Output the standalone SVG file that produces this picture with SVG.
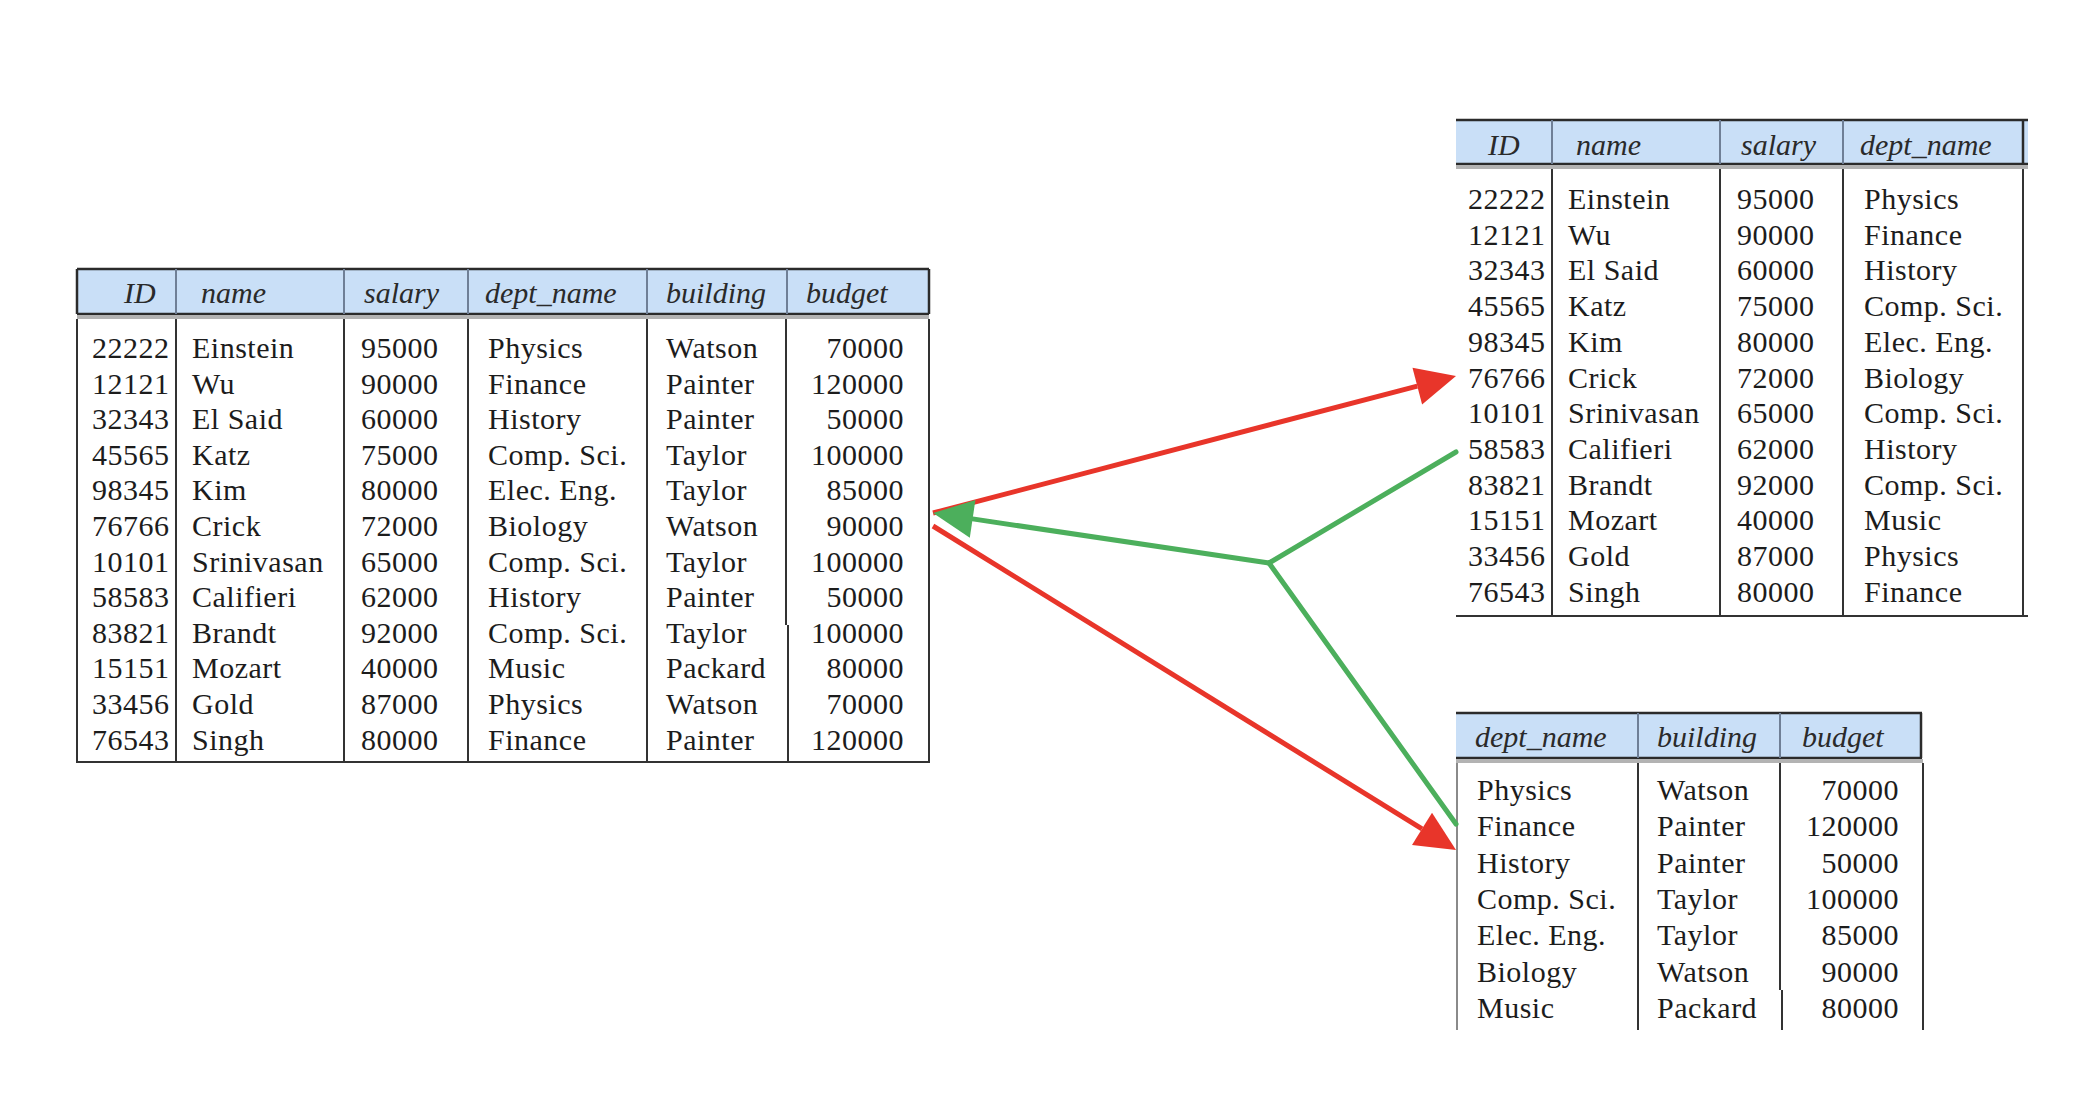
<svg xmlns="http://www.w3.org/2000/svg" width="2086" height="1100" viewBox="0 0 2086 1100">
<style>
  .hdr { fill: #c9dff7; }
  .hline { stroke: #2b2b2b; stroke-width: 2.5; fill: none; }
  .hdiv { stroke: #6f7f96; stroke-width: 2; }
  .sep { stroke: #b3b3b3; stroke-width: 4; }
  .bdiv { stroke: #333; stroke-width: 2; }
  .bl { stroke: #8a8a8a; stroke-width: 2; }
  .h { font-family: "Liberation Serif", serif; font-style: italic; font-size: 30px; fill: #2a2a2a; }
  .b { font-family: "Liberation Serif", serif; font-size: 30px; fill: #1c1c1c; letter-spacing: 0.5px; }
  .r { text-anchor: end; }
  .red { stroke: #e8352a; stroke-width: 5; fill: none; }
  .green { stroke: #4caf5c; stroke-width: 5; fill: none; stroke-linecap: round; }
</style>
<defs>
  <marker id="ahRed" markerUnits="userSpaceOnUse" markerWidth="40" markerHeight="38" refX="0" refY="19" orient="auto" overflow="visible">
    <path d="M0,0 L40,19 L0,38 z" fill="#e8352a"/>
  </marker>
  <marker id="ahGreen" markerUnits="userSpaceOnUse" markerWidth="40" markerHeight="38" refX="0" refY="19" orient="auto" overflow="visible">
    <path d="M0,0 L40,19 L0,38 z" fill="#4caf5c"/>
  </marker>
</defs>
<rect width="2086" height="1100" fill="#ffffff"/>

<g id="instructor_department">
  <rect class="hdr" x="77" y="269" width="852" height="45"/>
  <line class="hline" x1="77" y1="269" x2="929" y2="269"/>
  <line class="hline" x1="77" y1="314" x2="929" y2="314"/>
  <line class="hline" x1="77" y1="269" x2="77" y2="314"/>
  <line class="hline" x1="929" y1="269" x2="929" y2="314"/>
  <g class="hdiv">
    <line x1="176" y1="269" x2="176" y2="314"/>
    <line x1="344" y1="269" x2="344" y2="314"/>
    <line x1="468" y1="269" x2="468" y2="314"/>
    <line x1="647" y1="269" x2="647" y2="314"/>
    <line x1="787" y1="269" x2="787" y2="314"/>
  </g>
  <line class="sep" x1="77" y1="317" x2="929" y2="317"/>
  <g class="bdiv">
    <line x1="77" y1="319" x2="77" y2="762"/>
    <line x1="176" y1="319" x2="176" y2="762"/>
    <line x1="344" y1="319" x2="344" y2="762"/>
    <line x1="468" y1="319" x2="468" y2="762"/>
    <line x1="647" y1="319" x2="647" y2="762"/>
    <line x1="786" y1="319" x2="786" y2="625"/>
    <line x1="788" y1="625" x2="788" y2="762"/>
    <line x1="929" y1="319" x2="929" y2="762"/>
    <line x1="76" y1="762" x2="930" y2="762"/>
  </g>
  <text class="h" x="124" y="303">ID</text>
  <text class="h" x="201" y="303">name</text>
  <text class="h" x="364" y="303">salary</text>
  <text class="h" x="485" y="303">dept_name</text>
  <text class="h" x="666" y="303">building</text>
  <text class="h" x="806" y="303">budget</text>
  <text class="b"><tspan x="92" y="358">22222</tspan><tspan x="92" y="393.6">12121</tspan><tspan x="92" y="429.2">32343</tspan><tspan x="92" y="464.8">45565</tspan><tspan x="92" y="500.4">98345</tspan><tspan x="92" y="536">76766</tspan><tspan x="92" y="571.6">10101</tspan><tspan x="92" y="607.2">58583</tspan><tspan x="92" y="642.8">83821</tspan><tspan x="92" y="678.4">15151</tspan><tspan x="92" y="714">33456</tspan><tspan x="92" y="749.6">76543</tspan></text>
  <text class="b"><tspan x="192" y="358">Einstein</tspan><tspan x="192" y="393.6">Wu</tspan><tspan x="192" y="429.2">El Said</tspan><tspan x="192" y="464.8">Katz</tspan><tspan x="192" y="500.4">Kim</tspan><tspan x="192" y="536">Crick</tspan><tspan x="192" y="571.6">Srinivasan</tspan><tspan x="192" y="607.2">Califieri</tspan><tspan x="192" y="642.8">Brandt</tspan><tspan x="192" y="678.4">Mozart</tspan><tspan x="192" y="714">Gold</tspan><tspan x="192" y="749.6">Singh</tspan></text>
  <text class="b"><tspan x="361" y="358">95000</tspan><tspan x="361" y="393.6">90000</tspan><tspan x="361" y="429.2">60000</tspan><tspan x="361" y="464.8">75000</tspan><tspan x="361" y="500.4">80000</tspan><tspan x="361" y="536">72000</tspan><tspan x="361" y="571.6">65000</tspan><tspan x="361" y="607.2">62000</tspan><tspan x="361" y="642.8">92000</tspan><tspan x="361" y="678.4">40000</tspan><tspan x="361" y="714">87000</tspan><tspan x="361" y="749.6">80000</tspan></text>
  <text class="b"><tspan x="488" y="358">Physics</tspan><tspan x="488" y="393.6">Finance</tspan><tspan x="488" y="429.2">History</tspan><tspan x="488" y="464.8">Comp. Sci.</tspan><tspan x="488" y="500.4">Elec. Eng.</tspan><tspan x="488" y="536">Biology</tspan><tspan x="488" y="571.6">Comp. Sci.</tspan><tspan x="488" y="607.2">History</tspan><tspan x="488" y="642.8">Comp. Sci.</tspan><tspan x="488" y="678.4">Music</tspan><tspan x="488" y="714">Physics</tspan><tspan x="488" y="749.6">Finance</tspan></text>
  <text class="b"><tspan x="666" y="358">Watson</tspan><tspan x="666" y="393.6">Painter</tspan><tspan x="666" y="429.2">Painter</tspan><tspan x="666" y="464.8">Taylor</tspan><tspan x="666" y="500.4">Taylor</tspan><tspan x="666" y="536">Watson</tspan><tspan x="666" y="571.6">Taylor</tspan><tspan x="666" y="607.2">Painter</tspan><tspan x="666" y="642.8">Taylor</tspan><tspan x="666" y="678.4">Packard</tspan><tspan x="666" y="714">Watson</tspan><tspan x="666" y="749.6">Painter</tspan></text>
  <text class="b r"><tspan x="904" y="358">70000</tspan><tspan x="904" y="393.6">120000</tspan><tspan x="904" y="429.2">50000</tspan><tspan x="904" y="464.8">100000</tspan><tspan x="904" y="500.4">85000</tspan><tspan x="904" y="536">90000</tspan><tspan x="904" y="571.6">100000</tspan><tspan x="904" y="607.2">50000</tspan><tspan x="904" y="642.8">100000</tspan><tspan x="904" y="678.4">80000</tspan><tspan x="904" y="714">70000</tspan><tspan x="904" y="749.6">120000</tspan></text>
</g>

<g id="instructor">
  <rect class="hdr" x="1456" y="120" width="572" height="44"/>
  <line class="hline" x1="1456" y1="120" x2="2028" y2="120"/>
  <line class="hline" x1="1456" y1="164" x2="2028" y2="164"/>
  <line class="hline" x1="2023" y1="120" x2="2023" y2="164"/>
  <g class="hdiv">
    <line x1="1552" y1="120" x2="1552" y2="164"/>
    <line x1="1720" y1="120" x2="1720" y2="164"/>
    <line x1="1843" y1="120" x2="1843" y2="164"/>
  </g>
  <line class="sep" x1="1456" y1="167" x2="2028" y2="167"/>
  <g class="bdiv">
    <line x1="1552" y1="169" x2="1552" y2="616"/>
    <line x1="1720" y1="169" x2="1720" y2="616"/>
    <line x1="1843" y1="169" x2="1843" y2="616"/>
    <line x1="2023" y1="169" x2="2023" y2="616"/>
    <line x1="1456" y1="616" x2="2028" y2="616"/>
  </g>
  <text class="h" x="1488" y="155">ID</text>
  <text class="h" x="1576" y="155">name</text>
  <text class="h" x="1741" y="155">salary</text>
  <text class="h" x="1860" y="155">dept_name</text>
  <text class="b"><tspan x="1468" y="209">22222</tspan><tspan x="1468" y="244.7">12121</tspan><tspan x="1468" y="280.4">32343</tspan><tspan x="1468" y="316.1">45565</tspan><tspan x="1468" y="351.8">98345</tspan><tspan x="1468" y="387.5">76766</tspan><tspan x="1468" y="423.2">10101</tspan><tspan x="1468" y="458.9">58583</tspan><tspan x="1468" y="494.6">83821</tspan><tspan x="1468" y="530.3">15151</tspan><tspan x="1468" y="566">33456</tspan><tspan x="1468" y="601.7">76543</tspan></text>
  <text class="b"><tspan x="1568" y="209">Einstein</tspan><tspan x="1568" y="244.7">Wu</tspan><tspan x="1568" y="280.4">El Said</tspan><tspan x="1568" y="316.1">Katz</tspan><tspan x="1568" y="351.8">Kim</tspan><tspan x="1568" y="387.5">Crick</tspan><tspan x="1568" y="423.2">Srinivasan</tspan><tspan x="1568" y="458.9">Califieri</tspan><tspan x="1568" y="494.6">Brandt</tspan><tspan x="1568" y="530.3">Mozart</tspan><tspan x="1568" y="566">Gold</tspan><tspan x="1568" y="601.7">Singh</tspan></text>
  <text class="b"><tspan x="1737" y="209">95000</tspan><tspan x="1737" y="244.7">90000</tspan><tspan x="1737" y="280.4">60000</tspan><tspan x="1737" y="316.1">75000</tspan><tspan x="1737" y="351.8">80000</tspan><tspan x="1737" y="387.5">72000</tspan><tspan x="1737" y="423.2">65000</tspan><tspan x="1737" y="458.9">62000</tspan><tspan x="1737" y="494.6">92000</tspan><tspan x="1737" y="530.3">40000</tspan><tspan x="1737" y="566">87000</tspan><tspan x="1737" y="601.7">80000</tspan></text>
  <text class="b"><tspan x="1864" y="209">Physics</tspan><tspan x="1864" y="244.7">Finance</tspan><tspan x="1864" y="280.4">History</tspan><tspan x="1864" y="316.1">Comp. Sci.</tspan><tspan x="1864" y="351.8">Elec. Eng.</tspan><tspan x="1864" y="387.5">Biology</tspan><tspan x="1864" y="423.2">Comp. Sci.</tspan><tspan x="1864" y="458.9">History</tspan><tspan x="1864" y="494.6">Comp. Sci.</tspan><tspan x="1864" y="530.3">Music</tspan><tspan x="1864" y="566">Physics</tspan><tspan x="1864" y="601.7">Finance</tspan></text>
</g>

<g id="department">
  <rect class="hdr" x="1456" y="713" width="466" height="45"/>
  <line class="hline" x1="1456" y1="713" x2="1922" y2="713"/>
  <line class="hline" x1="1456" y1="758" x2="1922" y2="758"/>
  <line class="hline" x1="1921" y1="713" x2="1921" y2="758"/>
  <g class="hdiv">
    <line x1="1638" y1="713" x2="1638" y2="758"/>
    <line x1="1780" y1="713" x2="1780" y2="758"/>
  </g>
  <line class="sep" x1="1456" y1="761" x2="1923" y2="761"/>
  <line class="bl" x1="1457" y1="763" x2="1457" y2="1030"/>
  <g class="bdiv">
    <line x1="1638" y1="763" x2="1638" y2="1030"/>
    <line x1="1780" y1="763" x2="1780" y2="990"/>
    <line x1="1782" y1="990" x2="1782" y2="1030"/>
    <line x1="1923" y1="763" x2="1923" y2="1030"/>
  </g>
  <text class="h" x="1475" y="747">dept_name</text>
  <text class="h" x="1657" y="747">building</text>
  <text class="h" x="1802" y="747">budget</text>
  <text class="b"><tspan x="1477" y="800">Physics</tspan><tspan x="1477" y="836.3">Finance</tspan><tspan x="1477" y="872.6">History</tspan><tspan x="1477" y="908.9">Comp. Sci.</tspan><tspan x="1477" y="945.2">Elec. Eng.</tspan><tspan x="1477" y="981.5">Biology</tspan><tspan x="1477" y="1017.8">Music</tspan></text>
  <text class="b"><tspan x="1657" y="800">Watson</tspan><tspan x="1657" y="836.3">Painter</tspan><tspan x="1657" y="872.6">Painter</tspan><tspan x="1657" y="908.9">Taylor</tspan><tspan x="1657" y="945.2">Taylor</tspan><tspan x="1657" y="981.5">Watson</tspan><tspan x="1657" y="1017.8">Packard</tspan></text>
  <text class="b r"><tspan x="1899" y="800">70000</tspan><tspan x="1899" y="836.3">120000</tspan><tspan x="1899" y="872.6">50000</tspan><tspan x="1899" y="908.9">100000</tspan><tspan x="1899" y="945.2">85000</tspan><tspan x="1899" y="981.5">90000</tspan><tspan x="1899" y="1017.8">80000</tspan></text>
</g>

<g id="connectors">
  <line class="red" x1="933" y1="513" x2="1417.3" y2="386.1" marker-end="url(#ahRed)"/>
  <line class="red" x1="933" y1="526" x2="1422" y2="828.9" marker-end="url(#ahRed)"/>
  <line class="green" x1="1269" y1="563" x2="1456" y2="452"/>
  <line class="green" x1="1269" y1="563" x2="1456" y2="824"/>
  <line class="green" x1="1269" y1="563" x2="972.6" y2="518.9" marker-end="url(#ahGreen)"/>
</g>
</svg>
